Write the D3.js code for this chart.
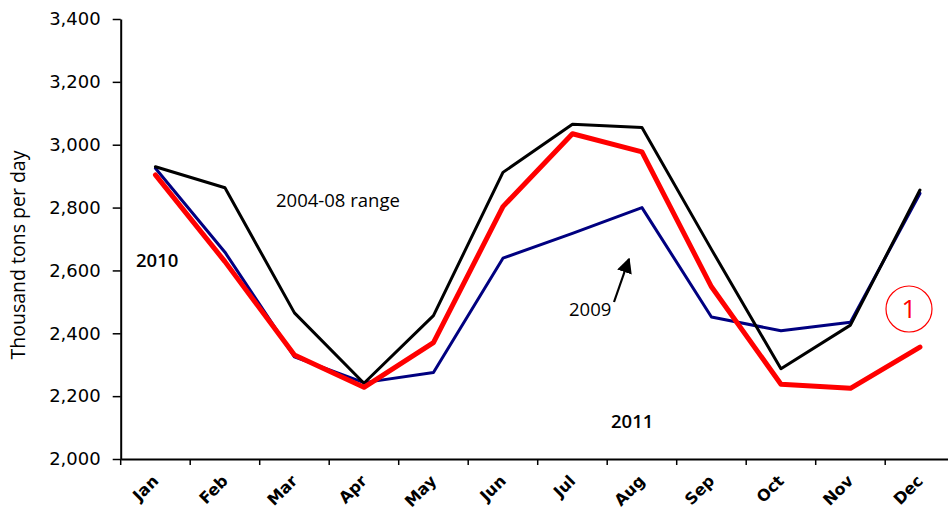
<!DOCTYPE html>
<html>
<head>
<meta charset="utf-8">
<script src="https://cdn.jsdelivr.net/npm/d3@7"></script>
<style>
  html, body { margin: 0; padding: 0; background: #fff; }
  svg { display: block; }
</style>
</head>
<body>
<svg id="chart" width="948" height="510"></svg>
<script>
// ---- data ----
const months = ["Jan","Feb","Mar","Apr","May","Jun","Jul","Aug","Sep","Oct","Nov","Dec"];
const yTicks = [2000, 2200, 2400, 2600, 2800, 3000, 3200, 3400];
const series2009 = [2925, 2658, 2325, 2243, 2275, 2639, 2718, 2800, 2452, 2408, 2435, 2845];
const series2010 = [2930, 2863, 2465, 2241, 2456, 2912, 3065, 3055, 2667, 2287, 2426, 2856];
const series2011 = [2904, 2628, 2331, 2228, 2370, 2803, 3035, 2977, 2548, 2238, 2225, 2356];
const yTitle = "Thousand tons per day";

(function () {
// ---- layout ----
const svg = d3.select("#chart");
const mLeft = 120.7, mTop = 19, mBottom = 459, band = 69.5;
const x = d3.scaleBand().domain(months).range([mLeft, mLeft + band * months.length]).padding(0);
const y = d3.scaleLinear().domain([2000, 3400]).range([mBottom, mTop]);
const cx = m => x(m) + x.bandwidth() / 2;

// y axis
const yAxis = svg.append("g")
  .attr("transform", `translate(${mLeft},0)`)
  .call(d3.axisLeft(y).tickValues(yTicks).tickFormat(d3.format(",")).tickSize(8).tickPadding(12).tickSizeOuter(0));
yAxis.select(".domain").attr("stroke", "#000").attr("stroke-width", 2);
yAxis.selectAll(".tick line").attr("stroke", "#000").attr("stroke-width", 1.5);
yAxis.selectAll(".tick text").attr("font-family", "DejaVu Sans").attr("font-size", 18).attr("fill", "#000");

// x axis (ticks at category boundaries)
const xAxis = svg.append("g")
  .attr("transform", `translate(0,${mBottom})`)
  .call(d3.axisBottom(x).tickSize(6).tickFormat("").tickSizeOuter(0));
xAxis.selectAll(".tick").attr("transform", d => `translate(${x(d)},0)`);
xAxis.select(".domain").attr("stroke", "#000").attr("stroke-width", 2);
xAxis.selectAll(".tick line").attr("stroke", "#000").attr("stroke-width", 1.5);

svg.append("g").selectAll("text").data(months).join("text")
  .attr("transform", d => `translate(${cx(d) + 4},482) rotate(-45)`)
  .attr("text-anchor", "end")
  .attr("font-family", "DejaVu Sans")
  .attr("font-weight", "bold")
  .attr("font-size", 16)
  .attr("fill", "#000")
  .text(d => d);

// y title
svg.append("text")
  .attr("transform", "translate(25,255) rotate(-90)")
  .attr("text-anchor", "middle")
  .attr("font-family", "Open Sans")
  .attr("font-size", 19.5)
  .attr("fill", "#000")
  .text(yTitle);

// lines
const line = d3.line().x((d, i) => cx(months[i])).y(d => y(d));
const drawLine = (data, color, w) => svg.append("path")
  .datum(data)
  .attr("d", line)
  .attr("fill", "none")
  .attr("stroke", color)
  .attr("stroke-width", w)
  .attr("stroke-linejoin", "round")
  .attr("stroke-linecap", "round");

drawLine(series2009, "#000080", 3);
drawLine(series2010, "#000000", 3);
drawLine(series2011, "#ff0000", 5);

// labels
const lbl = (t, px, py, weight) => svg.append("text")
  .attr("x", px).attr("y", py)
  .attr("font-family", "Open Sans")
  .attr("font-size", 18.5)
  .attr("font-weight", weight || 400)
  .attr("fill", "#000")
  .text(t);
lbl("2004-08 range", 276, 207);
lbl("2010", 136, 267, 600);
lbl("2009", 569, 316);
lbl("2011", 611, 428, 600);

// arrow
svg.append("defs").append("marker")
  .attr("id", "ah").attr("viewBox", "0 0 10 10").attr("refX", 9).attr("refY", 5)
  .attr("markerWidth", 7).attr("markerHeight", 7).attr("markerUnits", "strokeWidth")
  .attr("orient", "auto")
  .append("path").attr("d", "M0,0 L10,5 L0,10 Z").attr("fill", "#000");
svg.append("line")
  .attr("x1", 614).attr("y1", 302).attr("x2", 629).attr("y2", 259)
  .attr("stroke", "#000").attr("stroke-width", 2.2)
  .attr("marker-end", "url(#ah)");

// circled 1
svg.append("circle").attr("cx", 909).attr("cy", 309).attr("r", 23)
  .attr("fill", "none").attr("stroke", "#ff0000").attr("stroke-width", 1.2);
svg.append("text").attr("x", 909).attr("y", 309).attr("dy", "0.36em")
  .attr("text-anchor", "middle")
  .attr("font-family", "Open Sans").attr("font-size", 26).attr("font-weight", 400)
  .attr("fill", "#ff0000").text("1");
})();
</script>
</body>
</html>
